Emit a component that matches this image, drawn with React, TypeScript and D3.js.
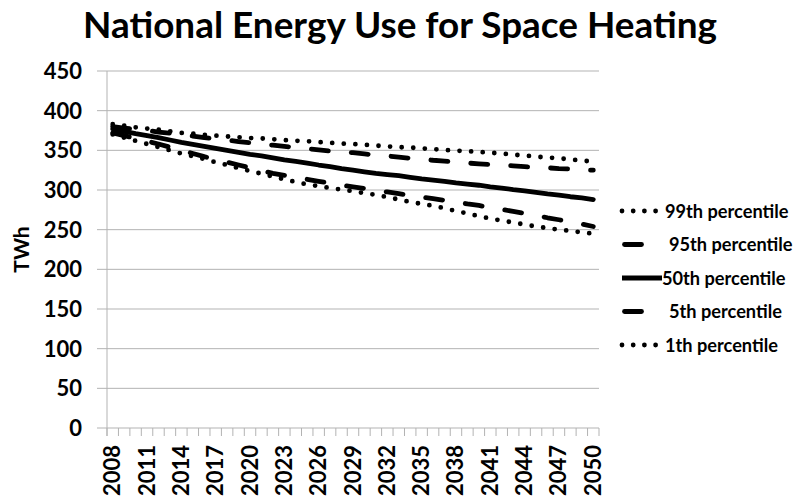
import React from "react";
import * as d3 from "d3";

const width = 798;
const height = 502;
const margin = { top: 71, right: 199, bottom: 74, left: 107 };

const years = d3.range(2008, 2051);
const yTicks = [0, 50, 100, 150, 200, 250, 300, 350, 400, 450];

const p99 = [383, 381, 379, 377.5, 376, 374, 372, 371, 369.5, 368.5, 367.5, 366.5, 365.5, 365, 364, 363, 362, 361.5, 360.5, 359.5, 358.5, 358, 357, 356, 355, 354, 353.5, 352.5, 351.5, 350.5, 349.5, 349, 348, 347, 346, 344.5, 343.5, 342, 341, 340, 338.5, 337, 336];
const p95 = [380, 378, 376.5, 375, 373, 371.5, 370, 368, 366, 364.5, 363, 361, 359.5, 358, 356.5, 355, 353.5, 352, 350.5, 349, 348, 347, 345.5, 344, 343, 341.5, 340, 339, 337.5, 336.5, 335, 334, 333, 332, 331, 330.5, 329.5, 328.5, 328, 327, 326.5, 325.5, 325];
const p50 = [377, 374, 371, 368.5, 366, 363, 360, 357.5, 355, 352.5, 350, 347.5, 345, 343, 340.5, 338, 336, 334, 331.5, 329.5, 327, 325, 323, 321, 319.5, 318, 316, 314, 312.5, 311, 309, 307.5, 306, 304, 302.5, 300.5, 299, 297, 295, 293.5, 291.5, 290, 288];
const p5 = [372, 368.5, 365, 361.5, 358, 354, 350, 346, 342, 338.5, 335, 331.5, 328, 324.5, 321, 318.5, 316, 313.5, 311, 308.5, 306, 304, 302, 299.5, 297.5, 295.5, 293, 291, 289, 287, 285, 282.5, 280.5, 278, 275.5, 273, 270.5, 268, 265, 262.5, 260, 257, 254];
const p1 = [370, 366, 362, 358, 354, 350, 346, 342.5, 339, 335, 331.5, 327.5, 324, 320.5, 317, 313.5, 310, 307, 305, 302.5, 300.5, 298.5, 296, 294, 291, 288, 285, 282.5, 280, 277, 273.5, 270.5, 267, 264, 261.5, 259, 256.5, 254, 252, 250, 248.5, 246.5, 245];

const seriesNames = ["99th percentile", "95th percentile", "50th percentile", "5th percentile", "1th percentile"];
const seriesValues = [p99, p95, p50, p5, p1];
const seriesStyle = ["dot", "dash", "solid", "dash", "dot"];

const font = "Lato, 'Open Sans', sans-serif";
const grid = "#b3b3b3";

function dashFor(style: string) {
  if (style === "dot") return "0 11.6";
  if (style === "dash") return "17 23";
  return undefined;
}

export default function App() {
  const x = d3
    .scaleBand<number>()
    .domain(years)
    .range([margin.left, width - margin.right]);
  const y = d3
    .scaleLinear()
    .domain([0, 450])
    .range([height - margin.bottom, margin.top]);

  const line = d3
    .line<number>()
    .x((_, i) => (x(years[i]) as number) + x.bandwidth() / 2)
    .y((d) => y(d));

  const x0 = margin.left;
  const x1 = width - margin.right;
  const yBase = y(0);
  const boundaries = d3.range(years.length + 1).map((i) => x0 + i * x.step());
  const labelYears = years.filter((yr) => (yr - 2008) % 3 === 0);

  const legendX = 622;
  const legendY = d3.scalePoint<string>().domain(seriesNames).range([211, 345]);
  const legendTextX = [665, 669, 662, 669, 665];

  return (
    <svg
      width={width}
      height={height}
      style={{ position: "absolute", left: 0, top: 0, background: "#fff" }}
      fontFamily={font}
      fontWeight="bold"
    >
      <text x={400} y={38} textAnchor="middle" fontSize={37} textLength={634} lengthAdjust="spacingAndGlyphs">
        National Energy Use for Space Heating
      </text>

      {yTicks.map((t) => (
        <g key={t}>
          <line x1={x0 - 10} x2={x1} y1={y(t)} y2={y(t)} stroke={grid} strokeWidth={1} />
          <text x={82} y={y(t)} dy="0.36em" textAnchor="end" fontSize={22}>
            {t}
          </text>
        </g>
      ))}
      <line x1={x0} x2={x0} y1={y(450)} y2={yBase + 8} stroke={grid} strokeWidth={1} />
      {boundaries.map((bx, i) => (
        <line key={i} x1={bx} x2={bx} y1={yBase} y2={yBase + 8} stroke={grid} strokeWidth={1} />
      ))}
      {labelYears.map((yr) => {
        const cx = (x(yr) as number) + x.bandwidth() / 2;
        return (
          <text
            key={yr}
            transform={`translate(${cx + 7.5},445) rotate(-90)`}
            textAnchor="end"
            fontSize={22}
          >
            {yr}
          </text>
        );
      })}

      <text transform={`translate(29,${(y(0) + y(450)) / 2}) rotate(-90)`} textAnchor="middle" fontSize={21}>
        TWh
      </text>

      {seriesValues.map((vals, i) => (
        <path
          key={seriesNames[i]}
          d={line(vals) || ""}
          fill="none"
          stroke="#000"
          strokeWidth={4.8}
          strokeLinecap="round"
          strokeLinejoin="round"
          strokeDasharray={dashFor(seriesStyle[i])}
        />
      ))}

      {seriesNames.map((name, i) => {
        const ly = legendY(name) as number;
        const st = seriesStyle[i];
        return (
          <g key={name}>
            <line
              x1={st === "dash" ? legendX + 2.5 : legendX}
              x2={st === "dash" ? legendX + 19.5 : st === "dot" ? legendX + 36 : 662}
              y1={ly}
              y2={ly}
              stroke="#000"
              strokeWidth={4.8}
              strokeLinecap={st === "solid" ? "butt" : "round"}
              strokeDasharray={st === "dot" ? "0 11.2" : undefined}
            />
            <text x={legendTextX[i]} y={ly} dy="0.36em" fontSize={18.2}>
              {name}
            </text>
          </g>
        );
      })}
    </svg>
  );
}
